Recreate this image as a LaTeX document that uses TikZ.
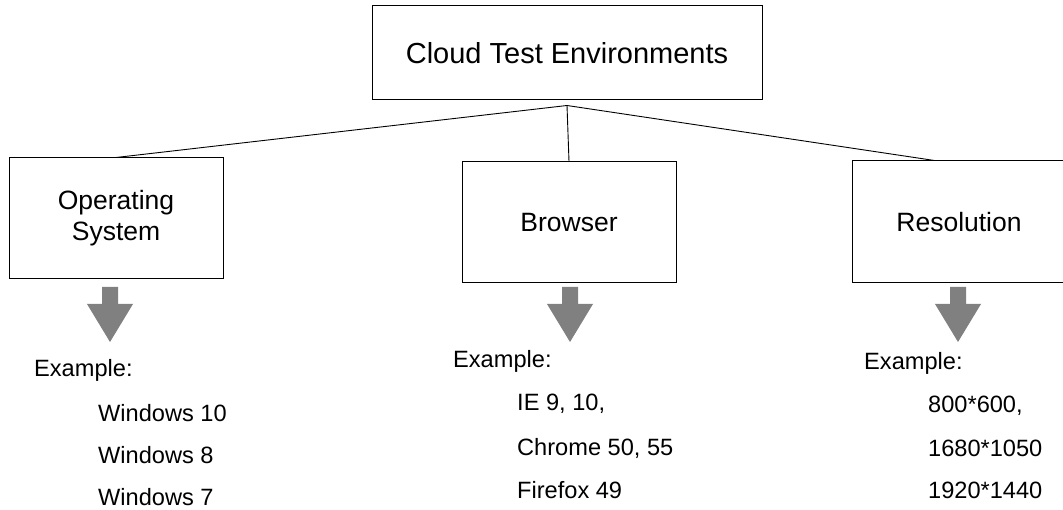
\documentclass[tikz,border=0pt]{standalone}
\usepackage{fontspec}
\setmainfont{Liberation Sans}
\tikzset{
  titlebox/.style={draw=black, line width=1pt, rectangle, inner sep=0pt, align=center,
    font=\fontsize{29pt}{34pt}\selectfont},
  catbox/.style={draw=black, line width=1pt, rectangle, inner sep=0pt, align=center,
    minimum width=214pt, minimum height=121pt, font=\fontsize{26.5pt}{31pt}\selectfont},
  link/.style={draw=black, line width=0.9pt},
  fatarrowstyle/.style={fill=black!50, draw=none},
  extext/.style={anchor=base west, inner sep=0pt, font=\fontsize{23.6pt}{28pt}\selectfont}
}
\newcommand\fatdownarrow[1]{%
  \fill[fatarrowstyle] (#1-8,287) -- (#1+8,287) -- (#1+8,304) -- (#1+23,304) -- (#1,342)
    -- (#1-23,304) -- (#1-8,304) -- cycle;}
\begin{document}
\begin{tikzpicture}[x=1pt,y=-1pt]
\useasboundingbox (0,0) rectangle (1063,510);
\clip (0,0) rectangle (1063,510);
\fill[white] (0,0) rectangle (1063,510);

\node[titlebox, minimum width=390pt, minimum height=94pt] (top) at (567,53) {Cloud Test Environments};
\node[catbox] (os)  at (116,218.5) {Operating\\System};
\node[catbox] (br)  at (569,222.5) {Browser};
\node[catbox, minimum height=122pt] (res) at (959,222) {Resolution};

\coordinate (hub) at ([yshift=-5pt]top.south);
\coordinate (resTop) at ([xshift=83pt]res.north west);
\draw[link] (hub) -- (os.north);
\draw[link] (hub) -- (br.north);
\draw[link] (hub) -- (resTop);

\fatdownarrow{110}
\fatdownarrow{570}
\fatdownarrow{958}

\node[extext] (osex) at (34,377) {Example:};
\node[extext] (os1) at (98,421) {Windows 10};
\node[extext] (os2) at (98,463.5) {Windows 8};
\node[extext] (os3) at (98,505) {Windows 7};

\node[extext] (brex) at (453,368) {Example:};
\node[extext] (br1) at (517,411) {IE 9, 10,};
\node[extext] (br2) at (517,455) {Chrome 50, 55};
\node[extext] (br3) at (517,498) {Firefox 49};

\node[extext] (resex) at (864,370) {Example:};
\node[extext] (res1) at (928,413) {800*600,};
\node[extext] (res2) at (928,456) {1680*1050};
\node[extext] (res3) at (928,498) {1920*1440};
\end{tikzpicture}
\end{document}
